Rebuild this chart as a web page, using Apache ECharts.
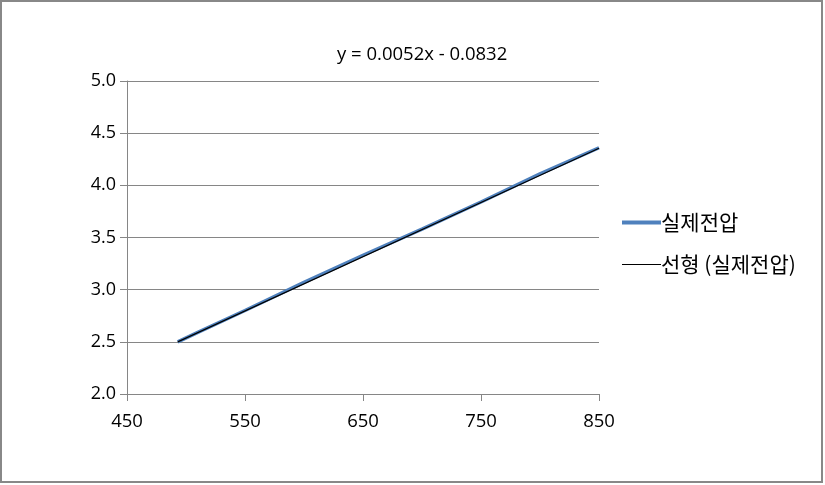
<!DOCTYPE html>
<html><head><meta charset="utf-8">
<script src="https://cdn.jsdelivr.net/npm/echarts@6/dist/echarts.min.js"></script>
<style>html,body{margin:0;padding:0;background:#fff}#c{width:825px;height:485px}</style>
</head><body><div id="c"></div>
<script>
const xValues = [493, 510, 550, 600, 650, 700, 750, 800, 850];
const voltage = [2.50, 2.59, 2.80, 3.07, 3.33, 3.58, 3.84, 4.11, 4.36];
const trendX = [493, 850];
const trendY = [2.50, 4.355];
const seriesName = '실제전압';
const trendName = '선형 (실제전압)';
const equation = 'y = 0.0052x - 0.0832';

const chart = echarts.init(document.getElementById('c'), null, {renderer: 'canvas'});
const font = '"Open Sans", "Noto Sans CJK KR", sans-serif';
const kfont = '"Noto Sans CJK KR", sans-serif';
chart.setOption({
  animation: false,
  backgroundColor: '#fff',
  graphic: [{type: 'rect', shape: {x: 1, y: 1, width: 821, height: 481}, style: {fill: 'none', stroke: '#888', lineWidth: 2}}],
  title: {text: equation, left: 332, top: 40, textStyle: {fontFamily: font, fontSize: 18.5, fontWeight: 'normal', color: '#000'}},
  grid: {left: 127, top: 81, right: 226, bottom: 91},
  legend: [
    {data: [seriesName], orient: 'vertical', left: 617, top: 207, icon: 'rect', itemWidth: 39, itemHeight: 4, itemGap: 0,
     textStyle: {fontFamily: kfont, fontSize: 21, color: '#000', padding: [0,0,0,-5]}},
    {data: [trendName], orient: 'vertical', left: 617, top: 249, icon: 'rect', itemWidth: 39, itemHeight: 1, itemGap: 0,
     textStyle: {fontFamily: kfont, fontSize: 21, color: '#000', padding: [0,0,0,-5]}}
  ],
  xAxis: {type: 'value', min: 450, max: 850, interval: 100,
    axisLine: {show: true, lineStyle: {color: '#868686', width: 1}},
    axisTick: {show: true, length: 7, lineStyle: {color: '#868686'}},
    axisLabel: {fontFamily: font, fontSize: 18.5, color: '#000', margin: 18},
    splitLine: {show: false}},
  yAxis: {type: 'value', min: 2.0, max: 5.0, interval: 0.5,
    axisLine: {show: true, lineStyle: {color: '#868686', width: 1}},
    axisTick: {show: true, length: 7, lineStyle: {color: '#868686'}},
    axisLabel: {fontFamily: font, fontSize: 18, color: '#000', margin: 11, formatter: v => v.toFixed(1)},
    splitLine: {show: true, lineStyle: {color: '#868686', width: 1}}},
  series: [
    {name: seriesName, type: 'line', data: xValues.map((x, i) => [x, voltage[i]]), showSymbol: false,
     lineStyle: {color: '#4F81BD', width: 3.5}, itemStyle: {color: '#4F81BD'}},
    {name: trendName, type: 'line', data: trendX.map((x, i) => [x, trendY[i]]), showSymbol: false,
     lineStyle: {color: '#000', width: 1.2}, itemStyle: {color: '#000'}}
  ]
});
</script></body></html>
